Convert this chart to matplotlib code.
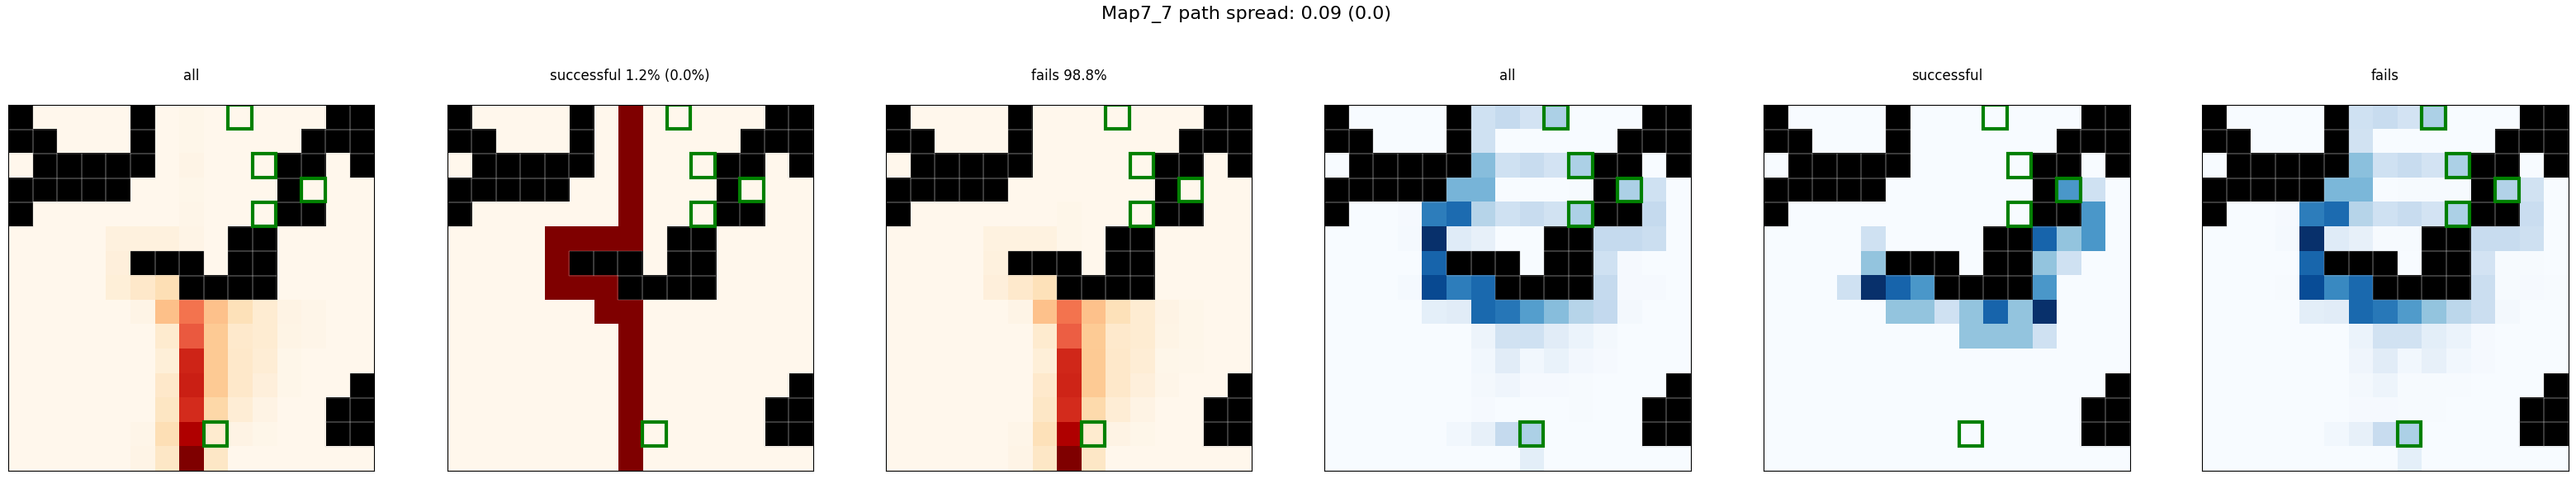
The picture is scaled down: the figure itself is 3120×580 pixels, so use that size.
import numpy as np
import matplotlib
matplotlib.use('Agg')
import matplotlib.pyplot as plt
from matplotlib.patches import Rectangle

# wall cells, column indices per row
walls = [
    [0, 5, 13, 14],
    [0, 1, 5, 12, 13, 14],
    [1, 2, 3, 4, 5, 11, 12, 14],
    [0, 1, 2, 3, 4, 11],
    [0, 11, 12],
    [9, 10],
    [5, 6, 7, 9, 10],
    [7, 8, 9, 10],
    [],
    [],
    [],
    [14],
    [13, 14],
    [13, 14],
    [],
]

# goal cells (col, row)
goals_x = [9, 10, 12, 10, 8]
goals_y = [0, 2, 3, 4, 13]

all_paths = [
    [0, 0, 0, 0, 0, 0, 0, .01, 0, 0, 0, 0, 0, 0, 0],
    [0, 0, 0, 0, 0, 0, 0, .01, 0, 0, 0, 0, 0, 0, 0],
    [0, 0, 0, 0, 0, 0, 0, .02, 0, 0, 0, 0, 0, 0, 0],
    [0, 0, 0, 0, 0, 0, 0, .01, 0, 0, 0, 0, 0, 0, 0],
    [0, 0, 0, 0, 0, 0, 0, .015, 0, 0, 0, 0, 0, 0, 0],
    [0, 0, 0, 0, .05, .05, .05, .02, 0, 0, 0, 0, 0, 0, 0],
    [0, 0, 0, 0, .06, 0, 0, 0, 0, 0, 0, 0, 0, 0, 0],
    [0, 0, 0, 0, .07, .12, .18, 0, 0, 0, 0, 0, 0, 0, 0],
    [0, 0, 0, 0, 0, .02, .35, .58, .34, .17, .09, .03, .015, 0, 0],
    [0, 0, 0, 0, 0, 0, .10, .65, .30, .11, .09, .025, .015, 0, 0],
    [0, 0, 0, 0, 0, 0, .07, .78, .30, .12, .08, .01, 0, 0, 0],
    [0, 0, 0, 0, 0, 0, .12, .79, .30, .12, .06, .01, 0, 0, 0],
    [0, 0, 0, 0, 0, 0, .14, .76, .22, .08, .03, 0, 0, 0, 0],
    [0, 0, 0, 0, 0, .015, .18, .88, .10, .03, .01, 0, 0, 0, 0],
    [0, 0, 0, 0, 0, .02, .13, 1.0, .13, 0, 0, 0, 0, 0, 0],
]

success_paths = [
    [0, 0, 0, 0, 0, 0, 0, 1, 0, 0, 0, 0, 0, 0, 0],
    [0, 0, 0, 0, 0, 0, 0, 1, 0, 0, 0, 0, 0, 0, 0],
    [0, 0, 0, 0, 0, 0, 0, 1, 0, 0, 0, 0, 0, 0, 0],
    [0, 0, 0, 0, 0, 0, 0, 1, 0, 0, 0, 0, 0, 0, 0],
    [0, 0, 0, 0, 0, 0, 0, 1, 0, 0, 0, 0, 0, 0, 0],
    [0, 0, 0, 0, 1, 1, 1, 1, 0, 0, 0, 0, 0, 0, 0],
    [0, 0, 0, 0, 1, 0, 0, 0, 0, 0, 0, 0, 0, 0, 0],
    [0, 0, 0, 0, 1, 1, 1, 0, 0, 0, 0, 0, 0, 0, 0],
    [0, 0, 0, 0, 0, 0, 1, 1, 0, 0, 0, 0, 0, 0, 0],
    [0, 0, 0, 0, 0, 0, 0, 1, 0, 0, 0, 0, 0, 0, 0],
    [0, 0, 0, 0, 0, 0, 0, 1, 0, 0, 0, 0, 0, 0, 0],
    [0, 0, 0, 0, 0, 0, 0, 1, 0, 0, 0, 0, 0, 0, 0],
    [0, 0, 0, 0, 0, 0, 0, 1, 0, 0, 0, 0, 0, 0, 0],
    [0, 0, 0, 0, 0, 0, 0, 1, 0, 0, 0, 0, 0, 0, 0],
    [0, 0, 0, 0, 0, 0, 0, 1, 0, 0, 0, 0, 0, 0, 0],
]

fail_paths = [
    [0, 0, 0, 0, 0, 0, 0, 0, 0, 0, 0, 0, 0, 0, 0],
    [0, 0, 0, 0, 0, 0, 0, 0, 0, 0, 0, 0, 0, 0, 0],
    [0, 0, 0, 0, 0, 0, 0, 0, 0, 0, 0, 0, 0, 0, 0],
    [0, 0, 0, 0, 0, 0, 0, 0, 0, 0, 0, 0, 0, 0, 0],
    [0, 0, 0, 0, 0, 0, 0, .01, 0, 0, 0, 0, 0, 0, 0],
    [0, 0, 0, 0, .04, .04, .04, .01, 0, 0, 0, 0, 0, 0, 0],
    [0, 0, 0, 0, .05, 0, 0, 0, 0, 0, 0, 0, 0, 0, 0],
    [0, 0, 0, 0, .06, .11, .17, 0, 0, 0, 0, 0, 0, 0, 0],
    [0, 0, 0, 0, 0, .02, .34, .58, .34, .17, .09, .03, .01, 0, 0],
    [0, 0, 0, 0, 0, 0, .10, .64, .29, .11, .09, .025, .01, 0, 0],
    [0, 0, 0, 0, 0, 0, .07, .77, .30, .12, .08, .01, .005, 0, 0],
    [0, 0, 0, 0, 0, 0, .11, .78, .30, .12, .06, .015, 0, 0, 0],
    [0, 0, 0, 0, 0, 0, .13, .76, .21, .08, .03, 0, 0, 0, 0],
    [0, 0, 0, 0, 0, .015, .17, .88, .10, .03, .01, 0, 0, 0, 0],
    [0, 0, 0, 0, 0, .02, .13, 1.0, .13, 0, 0, 0, 0, 0, 0],
]

all_ends = [
    [0, 0, 0, 0, 0, 0, .20, .25, .18, .33, 0, 0, 0, 0, 0],
    [0, 0, 0, 0, 0, 0, .20, 0, 0, 0, 0, 0, 0, 0, 0],
    [0, 0, 0, 0, 0, 0, .43, .20, .24, .18, .33, 0, 0, 0, 0],
    [0, 0, 0, 0, 0, .47, .47, 0, 0, 0, .005, 0, .33, .20, 0],
    [0, 0, 0, .01, .70, .77, .30, .20, .24, .19, .33, 0, 0, .25, 0],
    [0, 0, 0, .015, 1.0, .12, .08, 0, 0, 0, 0, .25, .25, .22, 0],
    [0, 0, 0, 0, .80, 0, 0, 0, 0, 0, 0, .20, .01, 0, 0],
    [0, 0, 0, .015, .90, .70, .78, 0, 0, 0, 0, .25, .01, .01, 0],
    [0, 0, 0, 0, .09, .11, .78, .73, .57, .43, .30, .26, .02, 0, 0],
    [0, 0, 0, 0, 0, 0, .05, .19, .20, .11, .06, .02, 0, 0, 0],
    [0, 0, 0, 0, 0, 0, .03, .11, .03, .07, .025, .01, 0, 0, 0],
    [0, 0, 0, 0, 0, 0, .02, .04, .01, .01, .005, 0, 0, 0, 0],
    [0, 0, 0, 0, 0, 0, .01, 0, 0, 0, .005, 0, 0, 0, 0],
    [0, 0, 0, 0, 0, .03, .08, .25, .33, 0, 0, 0, 0, 0, 0],
    [0, 0, 0, 0, 0, 0, 0, 0, .10, 0, 0, 0, 0, 0, 0],
]

success_ends = [
    [0, 0, 0, 0, 0, 0, 0, 0, 0, 0, 0, 0, 0, 0, 0],
    [0, 0, 0, 0, 0, 0, 0, 0, 0, 0, 0, 0, 0, 0, 0],
    [0, 0, 0, 0, 0, 0, 0, 0, 0, 0, 0, 0, 0, 0, 0],
    [0, 0, 0, 0, 0, 0, 0, 0, 0, 0, 0, 0, .6, .2, 0],
    [0, 0, 0, 0, 0, 0, 0, 0, 0, 0, 0, 0, 0, .6, 0],
    [0, 0, 0, 0, .2, 0, 0, 0, 0, 0, 0, .8, .4, .6, 0],
    [0, 0, 0, 0, .4, 0, 0, 0, 0, 0, 0, .4, .2, 0, 0],
    [0, 0, 0, .2, 1.0, .8, .6, 0, 0, 0, 0, .6, 0, 0, 0],
    [0, 0, 0, 0, 0, .4, .4, .2, .4, .8, .4, 1.0, 0, 0, 0],
    [0, 0, 0, 0, 0, 0, 0, 0, .4, .4, .4, .2, 0, 0, 0],
    [0, 0, 0, 0, 0, 0, 0, 0, 0, 0, 0, 0, 0, 0, 0],
    [0, 0, 0, 0, 0, 0, 0, 0, 0, 0, 0, 0, 0, 0, 0],
    [0, 0, 0, 0, 0, 0, 0, 0, 0, 0, 0, 0, 0, 0, 0],
    [0, 0, 0, 0, 0, 0, 0, 0, 0, 0, 0, 0, 0, 0, 0],
    [0, 0, 0, 0, 0, 0, 0, 0, 0, 0, 0, 0, 0, 0, 0],
]

fail_ends = [
    [0, 0, 0, 0, 0, 0, .20, .24, .18, .33, 0, 0, 0, 0, 0],
    [0, 0, 0, 0, 0, 0, .19, 0, 0, 0, 0, 0, 0, 0, 0],
    [0, 0, 0, 0, 0, 0, .42, .20, .24, .18, .33, 0, 0, 0, 0],
    [0, 0, 0, 0, 0, .46, .46, 0, .005, .005, .005, 0, .31, .19, 0],
    [0, 0, 0, .01, .70, .77, .30, .20, .24, .18, .33, 0, 0, .23, 0],
    [0, 0, 0, .015, 1.0, .12, .08, .005, .005, 0, 0, .24, .24, .21, 0],
    [0, 0, 0, 0, .79, 0, 0, 0, 0, 0, 0, .18, .005, .005, 0],
    [0, 0, 0, .005, .89, .66, .78, 0, 0, 0, 0, .22, .005, .01, .005],
    [0, 0, 0, 0, .10, .11, .78, .72, .58, .40, .28, .22, .02, 0, 0],
    [0, 0, 0, 0, 0, 0, .06, .19, .19, .10, .06, .01, 0, 0, 0],
    [0, 0, 0, 0, 0, 0, .04, .11, .03, .08, .03, .01, 0, 0, 0],
    [0, 0, 0, 0, 0, 0, .02, .05, .005, .005, .005, 0, 0, 0, 0],
    [0, 0, 0, 0, 0, 0, .01, .01, .005, .005, 0, 0, 0, 0, 0],
    [0, 0, 0, 0, 0, .03, .08, .24, .33, 0, 0, 0, 0, 0, 0],
    [0, 0, 0, 0, 0, 0, 0, 0, .09, 0, 0, 0, 0, 0, 0],
]

titles = ['all', 'successful 1.2% (0.0%)', 'fails 98.8%', 'all', 'successful', 'fails']
panels = [all_paths, success_paths, fail_paths, all_ends, success_ends, fail_ends]
cmaps = ['OrRd', 'OrRd', 'OrRd', 'Blues', 'Blues', 'Blues']
lefts = [10.3, 541.6, 1073.2, 1604.4, 2136.3, 2667.3]

W, H = 3120, 580
fig = plt.figure(figsize=(W / 100, H / 100), dpi=100)

wall_mask = np.zeros((15, 15))
for r, cols in enumerate(walls):
    wall_mask[r, cols] = 1
wall_mask = np.ma.masked_equal(wall_mask, 0)

for i in range(6):
    ax = fig.add_axes([lefts[i] / W, 1 - 570.3 / H, 443.2 / W, 443.2 / H])
    ax.imshow(panels[i], cmap=cmaps[i], vmin=0, vmax=1, extent=(0, 15, 15, 0),
              aspect='auto', interpolation='nearest')
    ax.imshow(wall_mask, cmap='gray', vmin=1, vmax=2, extent=(0, 15, 15, 0),
              aspect='auto', interpolation='nearest')
    # thin seams around wall cells, like the gridlines of a heatmap
    for r, cols in enumerate(walls):
        for c in cols:
            ax.add_patch(Rectangle((c, r), 1, 1, fill=False, edgecolor='#bbbbbb', linewidth=0.25))
    for x, y in zip(goals_x, goals_y):
        ax.add_patch(Rectangle((x, y), 0.97, 0.97, fill=False, edgecolor='green', linewidth=3))
    ax.set_xlim(0, 15)
    ax.set_ylim(15, 0)
    ax.set_xticks([])
    ax.set_yticks([])
    for s in ax.spines.values():
        s.set_linewidth(0.8)
    fig.text((lefts[i] + 221.6) / W, 1 - 92 / H, titles[i], ha='center', va='center', fontsize=12)

fig.text(1509 / W, 1 - 18 / H, 'Map7_7 path spread: 0.09 (0.0)', ha='center', va='center', fontsize=16)

fig.savefig('out.png', dpi=100)
